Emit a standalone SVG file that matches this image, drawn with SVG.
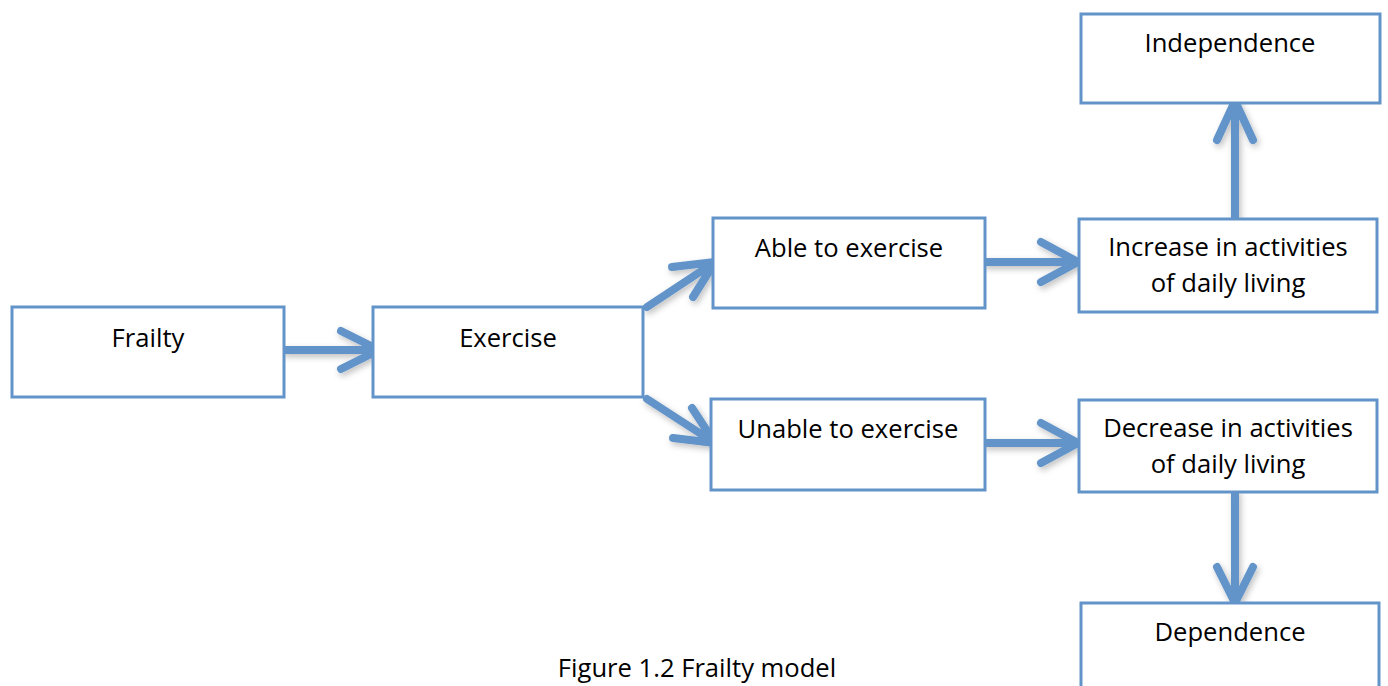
<svg xmlns="http://www.w3.org/2000/svg" width="1388" height="686" viewBox="0 0 1388 686">
<defs>
<filter id="sh" x="-20%" y="-20%" width="140%" height="140%">
<feDropShadow dx="2" dy="3" stdDeviation="3" flood-color="#000" flood-opacity="0.25"/>
</filter>
</defs>
<style>
.box{fill:#fff;stroke:#6394c9;stroke-width:3}
.t{font-family:"Open Sans","Liberation Sans",sans-serif;font-size:25.6px;fill:#000;text-anchor:middle}
.c{fill:none;stroke:#6394c9;stroke-width:8;stroke-linecap:round;stroke-linejoin:round}
</style>
<rect width="1388" height="686" fill="#fff"/>
<g id="connectors" filter="url(#sh)">
<path class="c" d="M285,350 H378 M341,331 L379,350 L341,369"/>
<path class="c" d="M647,307 L715,262 M672,267 L715,262 L693,297"/>
<path class="c" d="M647,399 L715,443 M673,438 L715,443 L692,408"/>
<path class="c" d="M986,262 H1077 M1041,242 L1078,262 L1041,282"/>
<path class="c" d="M986,443 H1077 M1041,423 L1078,443 L1041,463"/>
<path class="c" d="M1235,218 V102 M1217,140 L1235,101 L1253,140"/>
<path class="c" d="M1235,493 V602 M1217,567 L1235,603 L1253,567"/>
</g>
<g id="frailty"><rect class="box" x="12" y="307" width="272" height="90"/><text class="t" x="148" y="347">Frailty</text></g>
<g id="exercise"><rect class="box" x="373" y="307" width="270" height="90"/><text class="t" x="508" y="347">Exercise</text></g>
<g id="able"><rect class="box" x="713" y="218" width="272" height="90"/><text class="t" x="849" y="257">Able to exercise</text></g>
<g id="unable"><rect class="box" x="711" y="399" width="274" height="91"/><text class="t" x="848" y="438">Unable to exercise</text></g>
<g id="increase"><rect class="box" x="1079" y="219" width="298" height="93"/><text class="t" x="1228" y="256">Increase in activities</text><text class="t" x="1228" y="292">of daily living</text></g>
<g id="decrease"><rect class="box" x="1079" y="400" width="298" height="92"/><text class="t" x="1228" y="437">Decrease in activities</text><text class="t" x="1228" y="473">of daily living</text></g>
<g id="independence"><rect class="box" x="1081" y="14" width="299" height="89"/><text class="t" x="1230" y="52">Independence</text></g>
<g id="dependence"><rect class="box" x="1081" y="603" width="298" height="90"/><text class="t" x="1230" y="641">Dependence</text></g>
<g id="caption"><text class="t" x="697" y="677">Figure 1.2 Frailty model</text></g>
</svg>
